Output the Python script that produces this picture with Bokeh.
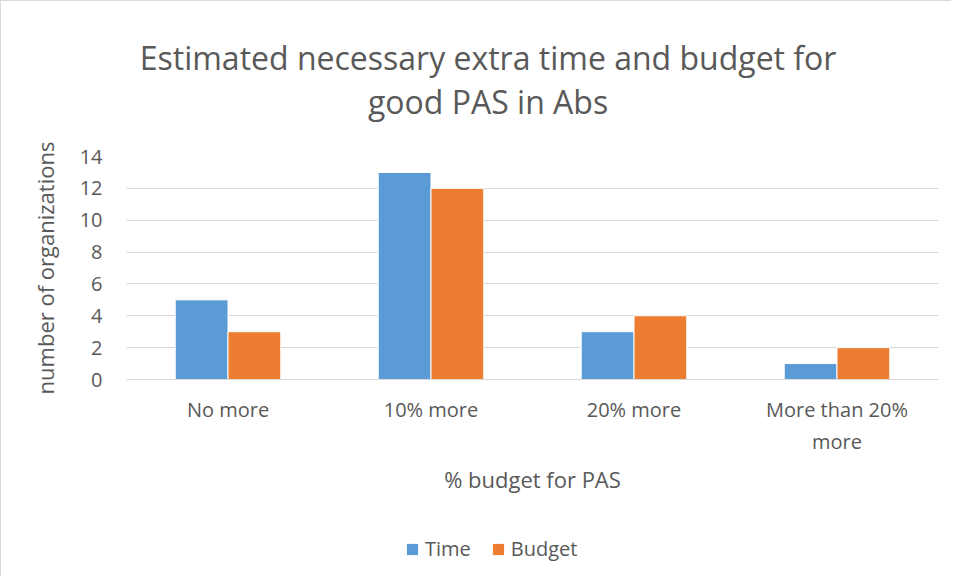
from bokeh.plotting import figure
from bokeh.layouts import column
from bokeh.models import FactorRange, Label, Legend, LegendItem, ColumnDataSource, FixedTicker
from bokeh.transform import dodge
from bokeh.embed import file_html
from bokeh.resources import INLINE

categories = ["No more", "10% more", "20% more", "More than 20%\nmore"]
time_vals = [5, 13, 3, 1]
budget_vals = [3, 12, 4, 2]
y_ticks = [0, 2, 4, 6, 8, 10, 12, 14]
series_names = ["Time", "Budget"]
series_colors = ["#5B9BD5", "#ED7D31"]
title_lines = ["Estimated necessary extra time and budget for", "good PAS in Abs"]

FONT = "Open Sans"
TXT = "#595959"
ML = 24
W = 950 - ML

src = ColumnDataSource(dict(cat=categories, time=time_vals, budget=budget_vals))

# ---- title strip ----
pt = figure(width=W, height=135, x_range=(125, 938), y_range=(0, 135), output_backend="svg",
            toolbar_location=None, x_axis_type=None, y_axis_type=None,
            min_border_left=101, min_border_right=13, min_border_top=0, min_border_bottom=0)
pt.margin = (0, 0, 0, ML)
pt.outline_line_color = None
pt.grid.visible = False
for txt, yy in zip(title_lines, [79, 35]):
    pt.add_layout(Label(x=487, y=yy, text=txt, text_align="center", text_baseline="middle",
                        text_font=FONT, text_font_size="32px", text_color=TXT))

# ---- main chart ----
p = figure(width=W, height=364, x_range=FactorRange(*categories, range_padding=0),
           y_range=(0, 14), output_backend="svg", toolbar_location=None,
           min_border_left=95, min_border_right=13, min_border_top=20, min_border_bottom=121)
p.margin = (0, 0, 0, ML)
p.outline_line_color = None

p.vbar(x=dodge("cat", -0.13, range=p.x_range), top="time", width=0.26, source=src,
       fill_color=series_colors[0], line_color="white", line_width=1)
p.vbar(x=dodge("cat", 0.13, range=p.x_range), top="budget", width=0.26, source=src,
       fill_color=series_colors[1], line_color="white", line_width=1)

p.yaxis.ticker = FixedTicker(ticks=y_ticks)
p.yaxis.axis_line_color = None
p.yaxis.major_tick_line_color = None
p.yaxis.minor_tick_line_color = None
p.yaxis.major_tick_out = 0
p.yaxis.major_label_text_font = FONT
p.yaxis.major_label_text_font_size = "20px"
p.yaxis.major_label_text_color = TXT
p.yaxis.major_label_standoff = 24
p.yaxis.axis_label = "number of organizations"
p.yaxis.axis_label_text_font = FONT
p.yaxis.axis_label_text_font_size = "22px"
p.yaxis.axis_label_text_font_style = "normal"
p.yaxis.axis_label_text_color = TXT
p.yaxis.axis_label_standoff = 17

p.xaxis.axis_line_color = "#D9D9D9"
p.xaxis.major_tick_line_color = None
p.xaxis.minor_tick_line_color = None
p.xaxis.major_tick_out = 0
p.xaxis.major_label_text_font = FONT
p.xaxis.major_label_text_font_size = "20px"
p.xaxis.major_label_text_color = TXT
p.xaxis.major_label_standoff = 16
p.xaxis.axis_label = "% budget for PAS"
p.xaxis.axis_label_text_font = FONT
p.xaxis.axis_label_text_font_size = "22px"
p.xaxis.axis_label_text_font_style = "normal"
p.xaxis.axis_label_text_color = TXT
p.xaxis.axis_label_standoff = 6

p.xgrid.grid_line_color = None
p.ygrid.grid_line_color = "#D9D9D9"
p.ygrid.grid_line_width = 1

# ---- legend strip (series renderers sit outside its visible y-range) ----
pl = figure(width=W, height=76, x_range=FactorRange(*categories, range_padding=0),
            y_range=(100, 101), output_backend="svg", toolbar_location=None,
            x_axis_type=None, y_axis_type=None,
            min_border_left=101, min_border_right=13, min_border_top=0, min_border_bottom=0)
pl.margin = (0, 0, 0, ML)
pl.outline_line_color = None
pl.grid.visible = False
lr1 = pl.vbar(x=dodge("cat", -0.13, range=pl.x_range), top="time", width=0.26, source=src,
              fill_color=series_colors[0], line_color=None)
lr2 = pl.vbar(x=dodge("cat", 0.13, range=pl.x_range), top="budget", width=0.26, source=src,
              fill_color=series_colors[1], line_color=None)
legend = Legend(items=[LegendItem(label=series_names[0], renderers=[lr1]),
                       LegendItem(label=series_names[1], renderers=[lr2])],
                orientation="horizontal", location=(279, 14),
                label_text_font=FONT, label_text_font_size="20px", label_text_color=TXT,
                glyph_width=14, glyph_height=14, spacing=20, label_standoff=6,
                border_line_color=None, background_fill_alpha=0, margin=0, padding=0)
pl.add_layout(legend, "center")

layout = column(pt, p, pl, spacing=0)
layout.styles = {"border-left": "1px solid #D9D9D9", "border-top": "1px solid #D9D9D9"}

open("out.html", "w").write(file_html(layout, INLINE))
